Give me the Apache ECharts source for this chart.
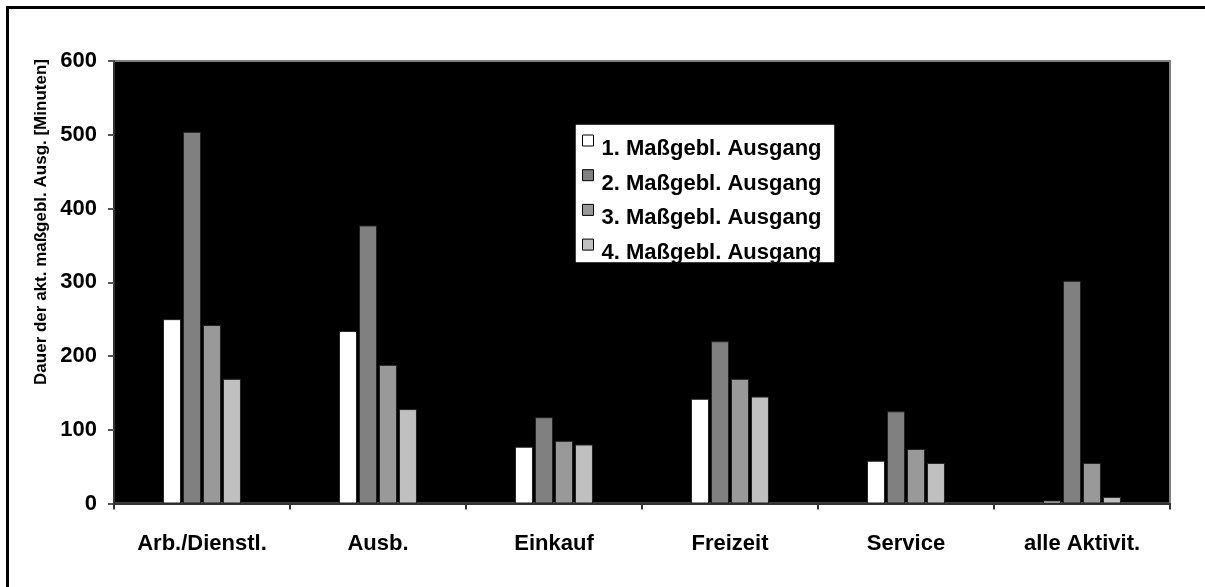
<!DOCTYPE html>
<html>
<head>
<meta charset="utf-8">
<script src="https://cdn.jsdelivr.net/npm/echarts@6/dist/echarts.min.js"></script>
<style>
  html, body { margin: 0; padding: 0; background: #fff; }
  #chart { width: 1205px; height: 587px; }
</style>
</head>
<body>
<div id="chart"></div>
<script>
const categories = ['Arb./Dienstl.', 'Ausb.', 'Einkauf', 'Freizeit', 'Service', 'alle Aktivit.']
const seriesNames = ['1. Maßgebl. Ausgang', '2. Maßgebl. Ausgang', '3. Maßgebl. Ausgang', '4. Maßgebl. Ausgang']
const ausgang1 = [250, 234, 77, 142, 58, 4]
const ausgang2 = [504, 377, 117, 220, 125, 302]
const ausgang3 = [242, 188, 85, 169, 74, 55]
const ausgang4 = [169, 128, 80, 145, 55, 9]
const yTicks = { min: 0, max: 600, interval: 100 }
const yTitle = 'Dauer der akt. maßgebl. Ausg. [Minuten]'

const colors = ['#ffffff', '#808080', '#999999', '#c0c0c0']
const font = 'Liberation Sans, Arial, sans-serif'
const allValues = [ausgang1, ausgang2, ausgang3, ausgang4]

const echart = echarts.init(document.getElementById('chart'))

// kleines Quadrat oben, darunter leerer Raum -> Symbol sitzt höher als der Text
const legendIcon = 'path://M0,0h11v11h-11z M0,28L0,28'

const options = {
  backgroundColor: '#fff',
  animation: false,
  textStyle: { fontFamily: font },
  grid: {
    show: true,
    left: 114,
    top: 61,
    right: 35,
    bottom: 83.5,
    backgroundColor: '#000',
    borderColor: '#808080',
    borderWidth: 2
  },
  legend: {
    orient: 'vertical',
    left: 582,
    top: 134.5,
    padding: 0,
    icon: legendIcon,
    itemWidth: 11,
    itemHeight: 28,
    itemGap: 5.7,
    z: 6,
    data: seriesNames,
    textStyle: {
      color: '#000',
      fontFamily: font,
      fontWeight: 'bold',
      fontSize: 22,
      padding: [0, 0, 0, 3]
    },
    itemStyle: { borderColor: '#000', borderWidth: 1 }
  },
  xAxis: {
    type: 'category',
    data: categories,
    axisLine: { lineStyle: { color: '#333', width: 2 } },
    axisTick: { show: true, length: 6, lineStyle: { color: '#333', width: 2 } },
    axisLabel: {
      color: '#000',
      fontFamily: font,
      fontWeight: 'bold',
      fontSize: 22,
      margin: 29
    }
  },
  yAxis: {
    type: 'value',
    min: yTicks.min,
    max: yTicks.max,
    interval: yTicks.interval,
    axisLine: { show: true, lineStyle: { color: '#333', width: 2 } },
    axisTick: { show: true, length: 6, lineStyle: { color: '#555', width: 2 } },
    splitLine: { show: false },
    axisLabel: {
      color: '#000',
      fontFamily: font,
      fontWeight: 'bold',
      fontSize: 22,
      margin: 17
    }
  },
  graphic: [
    {
      type: 'rect',
      z: 0,
      shape: { x: 7.5, y: 7.5, width: 1400, height: 800 },
      style: { fill: null, stroke: '#000', lineWidth: 3 }
    },
    {
      type: 'text',
      x: 41,
      y: 222,
      rotation: Math.PI / 2,
      style: {
        text: yTitle,
        fill: '#000',
        font: 'bold 17px ' + font,
        textAlign: 'center',
        textVerticalAlign: 'middle'
      }
    },
    {
      type: 'rect',
      z: 5,
      shape: { x: 575, y: 124, width: 260, height: 139 },
      style: { fill: '#fff', stroke: '#000', lineWidth: 1.5 }
    },
    {
      type: 'rect',
      z: 7,
      shape: { x: 574, y: 263.75, width: 262, height: 12 },
      style: { fill: '#000' }
    }
  ],
  series: seriesNames.map((name, i) => ({
    name: name,
    type: 'bar',
    data: allValues[i],
    barWidth: 18,
    barGap: '11%',
    itemStyle: {
      color: colors[i],
      borderColor: '#222',
      borderWidth: 1
    }
  }))
}

echart.setOption(options)
</script>
</body>
</html>
